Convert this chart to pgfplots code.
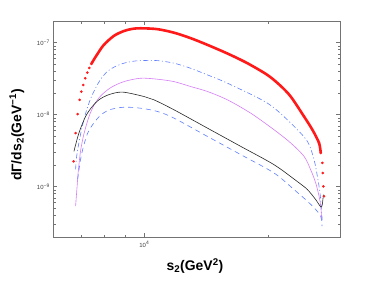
\documentclass[border=0pt]{standalone}
\usepackage{pgfplots}
\pgfplotsset{compat=1.18}
\usepackage{fontspec}
\setmainfont{Liberation Sans}
\definecolor{myred}{RGB}{255,25,25}
\definecolor{myblue}{RGB}{95,125,255}
\definecolor{myviolet}{RGB}{212,125,245}
\definecolor{framec}{RGB}{115,115,115}

\pgfplotstableread{
x y
7427 5.07e-8
7509 5.64e-8
7681 6.92e-8
7970 9.33e-8
8433 1.245e-7
8917 1.452e-7
9350 1.556e-7
9795 1.585e-7
10757 1.542e-7
11810 1.377e-7
12970 1.156e-7
14250 9.33e-8
15940 7.08e-8
17800 5.22e-8
19950 3.57e-8
21400 2.57e-8
22740 1.79e-8
24510 9.44e-9
25690 6.18e-9
26670 4.04e-9
26920 2.94e-9
}\redline

\pgfplotstableread{
x y
6725 2.25e-9
6800 5.56e-9
6878 1.02e-8
6955 1.61e-8
7020 2.09e-8
7099 2.59e-8
7180 3.21e-8
7262 3.84e-8
7344 4.46e-8
7427 5.07e-8
26670 4.04e-9
26920 2.94e-9
27180 2.14e-9
27220 1.55e-9
27330 1.01e-9
27420 7.36e-10
}\redmarks

\pgfplotstableread{
x y
6800 1.74e-9
6840 2.63e-9
6927 4.07e-9
7060 6.92e-9
7220 1.12e-8
7396 1.66e-8
7606 2.34e-8
7826 3.09e-8
8124 3.98e-8
8500 4.68e-8
8917 5.19e-8
9350 5.50e-8
9795 5.64e-8
10757 5.64e-8
11810 5.19e-8
12970 4.41e-8
14250 3.57e-8
15940 2.74e-8
19950 1.45e-8
22740 7.66e-9
24980 4.26e-9
25930 2.37e-9
26420 1.39e-9
26810 8.2e-10
27030 4.82e-10
27150 3.3e-10
}\dashdot

\pgfplotstableread{
x y
6800 5.37e-10
6865 1.10e-9
6903 1.66e-9
6993 3.16e-9
7124 5.37e-9
7327 9.33e-9
7536 1.35e-8
7826 1.82e-8
8276 2.37e-8
8917 2.88e-8
9795 3.21e-8
10757 3.11e-8
11810 2.88e-8
12970 2.46e-8
14250 2.10e-8
15940 1.61e-8
18170 1.05e-8
20710 6.18e-9
22740 4.05e-9
24510 2.64e-9
25440 1.72e-9
26170 1.13e-9
26670 7.36e-10
26920 5.36e-10
27070 3.50e-10
}\violet

\pgfplotstableread{
x y
6736 3.09e-9
6927 5.56e-9
7192 9.44e-9
7468 1.30e-8
7751 1.61e-8
8183 1.89e-8
8838 2.06e-8
9977 1.79e-8
10554 1.61e-8
11810 1.17e-8
14250 6.51e-9
17180 3.63e-9
20710 2.02e-9
23620 1.175e-9
24980 9.12e-10
26170 6.62e-10
26920 5.25e-10
27150 5.6e-10
27330 7.78e-10
}\black

\pgfplotstableread{
x y
6878 1.26e-9
6993 2.40e-9
7124 3.80e-9
7327 6.03e-9
7751 9.33e-9
8199 1.16e-8
8917 1.27e-8
9795 1.23e-8
10757 1.11e-8
11810 8.97e-9
14250 4.99e-9
17180 2.79e-9
20710 1.55e-9
23170 9.12e-10
24980 6.28e-10
26170 4.82e-10
26920 3.89e-10
27120 2.83e-10
}\dashed

\begin{document}
\begin{tikzpicture}
\begin{axis}[name=ax,
  scale only axis, width=286.7bp, height=216bp,
  xmode=log, ymode=log, log basis x=10, log basis y=10,
  xmin=6000, xmax=30000, ymin=2e-10, ymax=2e-7,
  axis line style={framec, line width=0.9bp},
  tick style={framec, line width=0.5bp},
  major tick length=4bp, minor tick length=2.5bp,
  xtick={10000},
  minor xtick={6000,7000,8000,9000,20000,30000},
  ytick={1e-9,1e-8,1e-7},
  minor ytick={3e-10,4e-10,5e-10,6e-10,7e-10,8e-10,9e-10,2e-9,3e-9,4e-9,5e-9,6e-9,7e-9,8e-9,9e-9,2e-8,3e-8,4e-8,5e-8,6e-8,7e-8,8e-8,9e-8,2e-7},
  xticklabel={10\textsuperscript{\pgfmathparse{int(round(\tick))}\pgfmathresult}},
  yticklabel={10\textsuperscript{−\pgfmathparse{int(round(-\tick))}\pgfmathresult}},
  tick label style={font=\fontsize{6}{7}\selectfont, text=black!75},
  xticklabel style={yshift=-1bp},
  xlabel={\textbf{s\textsubscript{2}(GeV\textsuperscript{2})}},
  ylabel={\textbf{dΓ/ds\textsubscript{2}(GeV\textsuperscript{−1})}},
  label style={font=\fontsize{14}{16}\selectfont},
  xlabel style={at={(rel axis cs:0.494,-0.134)}, anchor=center},
  ylabel style={at={(rel axis cs:-0.127,0.472)}, anchor=center},
  clip=false,
]
\addplot[myred, line width=2.6bp, smooth, tension=0.5, line join=round] table[x=x,y=y]{\redline};
\addplot[only marks, mark=*, mark size=1.1bp, mark options={draw=myred, fill=myred}] table[x=x,y=y]{\redmarks};
\addplot[myblue, line width=0.6bp, smooth, tension=0.5, dash pattern=on 5bp off 2.5bp on 1bp off 2.5bp] table[x=x,y=y]{\dashdot};
\addplot[myviolet, line width=0.6bp, smooth, tension=0.5] table[x=x,y=y]{\violet};
\addplot[black!85, line width=0.6bp, smooth, tension=0.5] table[x=x,y=y]{\black};
\addplot[myblue, line width=0.6bp, smooth, tension=0.5, dash pattern=on 5bp off 4bp] table[x=x,y=y]{\dashed};
\end{axis}
\path[use as bounding box] (ax.south west) ++(-53.3bp,-44bp) rectangle ++(374bp,281bp);
\end{tikzpicture}
\end{document}
